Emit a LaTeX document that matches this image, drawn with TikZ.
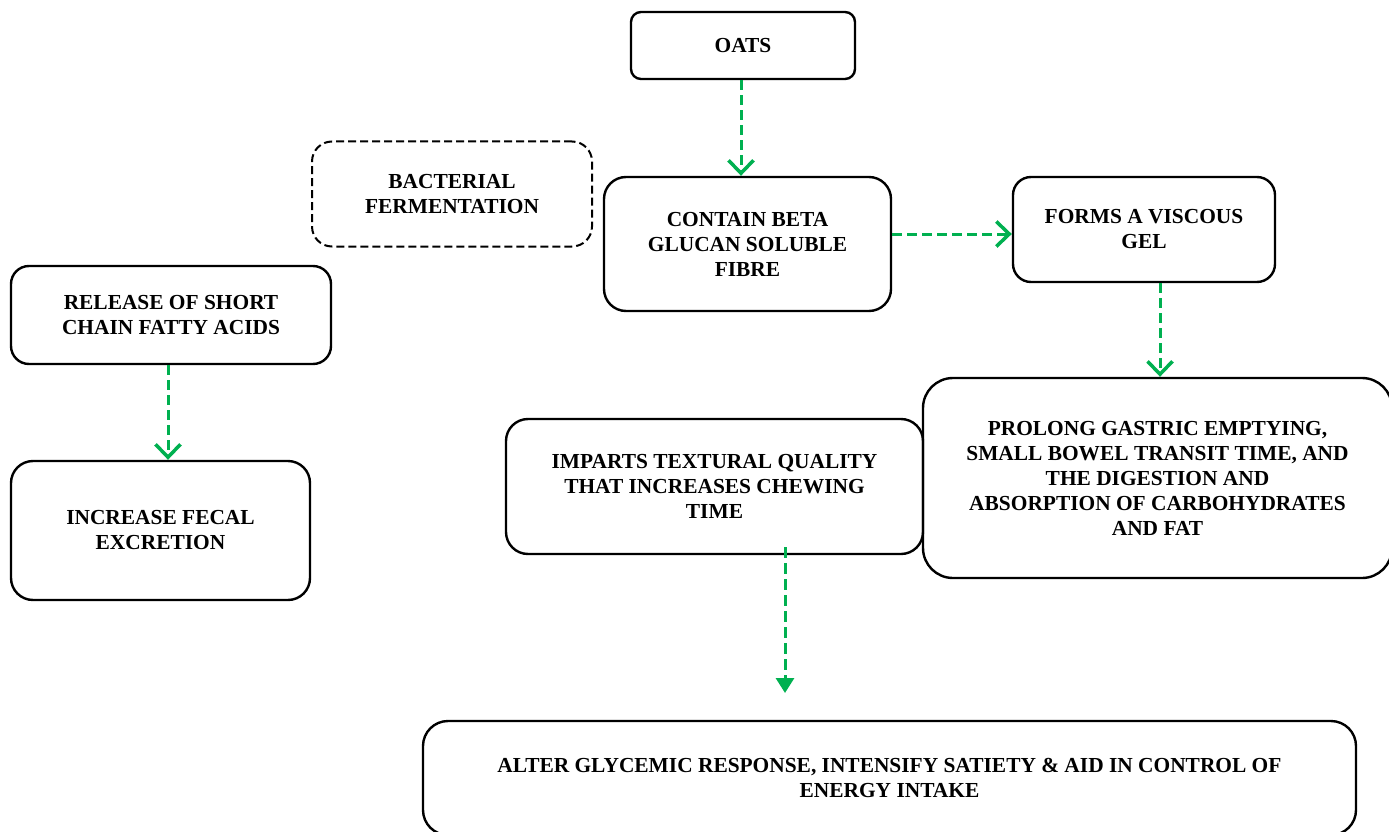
\documentclass[tikz,border=0pt]{standalone}
\usepackage{fontspec}
\setmainfont{Liberation Serif}
\usetikzlibrary{arrows.meta}
\definecolor{flowgreen}{HTML}{00B050}
\begin{document}
\begin{tikzpicture}[x=1pt,y=-1pt,
  box/.style={draw=black, line width=2.4pt, align=center, inner sep=0pt,
    font=\fontsize{21.4}{25}\selectfont\bfseries},
  flow/.style={draw=flowgreen, line width=3pt, dash pattern=on 10pt off 5pt,
    -{Straight Barb[length=13pt,width=25pt,line width=3.5pt]}},
  flowend/.style={draw=flowgreen, line width=3pt, dash pattern=on 11pt off 5pt,
    -{Triangle[length=15pt,width=18pt]}}]
\useasboundingbox (0,0) rectangle (1389,832);

% boxes
\node[box, rounded corners=10pt, minimum width=224pt, minimum height=67pt] (oats) at (743,45.5) {OATS};
\node[box, rounded corners=20pt, dashed, line width=2pt, dash pattern=on 8pt off 4pt,
  minimum width=280pt, minimum height=105pt] (bact) at (452,194) {BACTERIAL\\FERMENTATION};
\node[box, rounded corners=22pt, minimum width=287pt, minimum height=134pt] (beta) at (747.5,244) {CONTAIN BETA\\GLUCAN SOLUBLE\\FIBRE};
\node[box, rounded corners=18pt, minimum width=262pt, minimum height=105pt] (gel) at (1144,229.5) {FORMS A VISCOUS\\GEL};
\node[box, rounded corners=18pt, minimum width=320pt, minimum height=98pt] (rel) at (171,315) {RELEASE OF SHORT\\CHAIN FATTY ACIDS};
\node[box, rounded corners=22pt, minimum width=299pt, minimum height=139pt] (fecal) at (160.5,530.5) {INCREASE FECAL\\EXCRETION};
\node[box, rounded corners=22pt, minimum width=417pt, minimum height=135pt] (imp) at (714.5,486.5) {IMPARTS TEXTURAL QUALITY\\THAT INCREASES CHEWING\\TIME};
\node[box, rounded corners=30pt, minimum width=469pt, minimum height=200pt] (prol) at (1157.5,478) {PROLONG GASTRIC EMPTYING,\\SMALL BOWEL TRANSIT TIME, AND\\THE DIGESTION AND\\ABSORPTION OF CARBOHYDRATES\\AND FAT};
\node[box, rounded corners=25pt, minimum width=933pt, minimum height=114pt] (alter) at (889.5,778) {ALTER GLYCEMIC RESPONSE, INTENSIFY SATIETY \& AID IN CONTROL OF\\ENERGY INTAKE};

\coordinate (chewend) at (785,693);

% connectors
\draw[flow] ([xshift=-2pt]oats.south) -- ([xshift=-2pt]oats.south |- beta.north);
\draw[flow] ([yshift=10pt]beta.east) -- ([yshift=10pt]beta.east -| gel.west);
\draw[flow] ([xshift=16pt]gel.south) -- ([xshift=16pt]gel.south |- prol.north);
\draw[flow] ([xshift=-3pt]rel.south) -- ([xshift=-3pt]rel.south |- fecal.north);
\draw[flowend] ([xshift=70.5pt,yshift=8pt]imp.south) -- (chewend);
\end{tikzpicture}
\end{document}
